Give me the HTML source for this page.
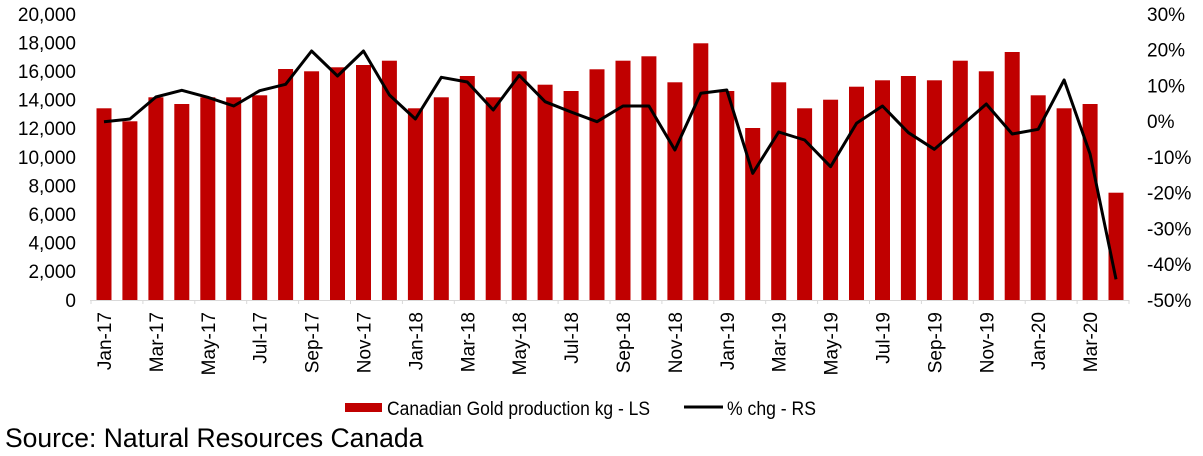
<!DOCTYPE html>
<html>
<head>
<meta charset="utf-8">
<style>
  html,body{margin:0;padding:0;background:#fff;}
  svg{display:block;}
  text{font-family:"Liberation Sans",Arial,sans-serif;fill:#000;}
</style>
</head>
<body>
<svg width="1203" height="456" viewBox="0 0 1203 456" xmlns="http://www.w3.org/2000/svg">
  <!-- bars -->
  <g fill="#C00000">
    <rect x="96.5" y="108.3" width="15" height="191.7"/>
    <rect x="122.4" y="121.3" width="15" height="178.7"/>
    <rect x="148.4" y="97.3" width="15" height="202.7"/>
    <rect x="174.3" y="104" width="15" height="196"/>
    <rect x="200.3" y="97.3" width="15" height="202.7"/>
    <rect x="226.2" y="97.3" width="15" height="202.7"/>
    <rect x="252.2" y="95.3" width="15" height="204.7"/>
    <rect x="278.1" y="69" width="15" height="231"/>
    <rect x="304.1" y="71.3" width="15" height="228.7"/>
    <rect x="330" y="67.3" width="15" height="232.7"/>
    <rect x="356" y="65" width="15" height="235"/>
    <rect x="381.9" y="60.7" width="15" height="239.3"/>
    <rect x="407.9" y="108.3" width="15" height="191.7"/>
    <rect x="433.8" y="97.3" width="15" height="202.7"/>
    <rect x="459.8" y="76" width="15" height="224"/>
    <rect x="485.7" y="97.3" width="15" height="202.7"/>
    <rect x="511.7" y="71.3" width="15" height="228.7"/>
    <rect x="537.6" y="84.7" width="15" height="215.3"/>
    <rect x="563.6" y="91" width="15" height="209"/>
    <rect x="589.5" y="69.3" width="15" height="230.7"/>
    <rect x="615.5" y="60.7" width="15" height="239.3"/>
    <rect x="641.4" y="56.3" width="15" height="243.7"/>
    <rect x="667.4" y="82.3" width="15" height="217.7"/>
    <rect x="693.3" y="43.3" width="15" height="256.7"/>
    <rect x="719.3" y="91" width="15" height="209"/>
    <rect x="745.2" y="128" width="15" height="172"/>
    <rect x="771.2" y="82.3" width="15" height="217.7"/>
    <rect x="797.1" y="108.3" width="15" height="191.7"/>
    <rect x="823.1" y="99.7" width="15" height="200.3"/>
    <rect x="849" y="86.7" width="15" height="213.3"/>
    <rect x="875" y="80.3" width="15" height="219.7"/>
    <rect x="900.9" y="76" width="15" height="224"/>
    <rect x="926.9" y="80.3" width="15" height="219.7"/>
    <rect x="952.8" y="60.7" width="15" height="239.3"/>
    <rect x="978.8" y="71.3" width="15" height="228.7"/>
    <rect x="1004.7" y="52" width="15" height="248"/>
    <rect x="1030.7" y="95.3" width="15" height="204.7"/>
    <rect x="1056.6" y="108.3" width="15" height="191.7"/>
    <rect x="1082.6" y="104" width="15" height="196"/>
    <rect x="1108.5" y="192.7" width="15" height="107.3"/>
  </g>

  <!-- x axis -->
  <line x1="90" y1="300.5" x2="1129.5" y2="300.5" stroke="#d9d9d9" stroke-width="1"/>
  <g stroke="#d9d9d9" stroke-width="1">
    <line x1="91" y1="300" x2="91" y2="304"/>
    <line x1="142.9" y1="300" x2="142.9" y2="304"/>
    <line x1="194.8" y1="300" x2="194.8" y2="304"/>
    <line x1="246.7" y1="300" x2="246.7" y2="304"/>
    <line x1="298.6" y1="300" x2="298.6" y2="304"/>
    <line x1="350.5" y1="300" x2="350.5" y2="304"/>
    <line x1="402.4" y1="300" x2="402.4" y2="304"/>
    <line x1="454.3" y1="300" x2="454.3" y2="304"/>
    <line x1="506.2" y1="300" x2="506.2" y2="304"/>
    <line x1="558.1" y1="300" x2="558.1" y2="304"/>
    <line x1="610" y1="300" x2="610" y2="304"/>
    <line x1="661.9" y1="300" x2="661.9" y2="304"/>
    <line x1="713.8" y1="300" x2="713.8" y2="304"/>
    <line x1="765.7" y1="300" x2="765.7" y2="304"/>
    <line x1="817.6" y1="300" x2="817.6" y2="304"/>
    <line x1="869.5" y1="300" x2="869.5" y2="304"/>
    <line x1="921.4" y1="300" x2="921.4" y2="304"/>
    <line x1="973.3" y1="300" x2="973.3" y2="304"/>
    <line x1="1025.2" y1="300" x2="1025.2" y2="304"/>
    <line x1="1077.1" y1="300" x2="1077.1" y2="304"/>
    <line x1="1129" y1="300" x2="1129" y2="304"/>
  </g>

  <!-- line series -->
  <polyline fill="none" stroke="#000" stroke-width="3" stroke-linejoin="round" stroke-linecap="butt"
    points="103.98,121.7 129.93,119 155.88,97 181.83,90.3 207.78,97.3 233.73,106 259.68,90.7 285.63,84.3 311.58,51 337.53,76 363.48,51 389.43,95 415.38,119 441.33,77.3 467.28,82 493.23,110 519.18,75.3 545.13,101.7 571.08,112 597.03,121.7 622.98,106 648.93,106 674.88,150 700.83,93.3 726.78,90 752.73,173.3 778.68,132 804.63,140 830.58,166.7 856.53,123.3 882.48,106 908.43,132.7 934.38,149.3 960.33,126.7 986.28,104 1012.23,134 1038.18,129.3 1064.13,80 1090.08,154 1116.03,279.3"/>

  <!-- left axis labels -->
  <g font-size="19" text-anchor="end">
    <text x="76" y="306.8">0</text>
    <text x="76" y="278.2">2,000</text>
    <text x="76" y="249.6">4,000</text>
    <text x="76" y="221">6,000</text>
    <text x="76" y="192.4">8,000</text>
    <text x="76" y="163.8">10,000</text>
    <text x="76" y="135.2">12,000</text>
    <text x="76" y="106.6">14,000</text>
    <text x="76" y="78">16,000</text>
    <text x="76" y="49.4">18,000</text>
    <text x="76" y="20.8">20,000</text>
  </g>

  <!-- right axis labels -->
  <g font-size="19" text-anchor="start">
    <text x="1147" y="306.8">-50%</text>
    <text x="1147" y="271">-40%</text>
    <text x="1147" y="235.3">-30%</text>
    <text x="1147" y="199.5">-20%</text>
    <text x="1147" y="163.8">-10%</text>
    <text x="1147" y="128">0%</text>
    <text x="1147" y="92.3">10%</text>
    <text x="1147" y="56.5">20%</text>
    <text x="1147" y="20.8">30%</text>
  </g>

  <!-- x labels -->
  <g font-size="19" text-anchor="end">
    <text transform="translate(111,312) rotate(-90)">Jan-17</text>
    <text transform="translate(162.9,312) rotate(-90)">Mar-17</text>
    <text transform="translate(214.8,312) rotate(-90)">May-17</text>
    <text transform="translate(266.7,312) rotate(-90)">Jul-17</text>
    <text transform="translate(318.6,312) rotate(-90)">Sep-17</text>
    <text transform="translate(370.5,312) rotate(-90)">Nov-17</text>
    <text transform="translate(422.4,312) rotate(-90)">Jan-18</text>
    <text transform="translate(474.3,312) rotate(-90)">Mar-18</text>
    <text transform="translate(526.2,312) rotate(-90)">May-18</text>
    <text transform="translate(578.1,312) rotate(-90)">Jul-18</text>
    <text transform="translate(630,312) rotate(-90)">Sep-18</text>
    <text transform="translate(681.9,312) rotate(-90)">Nov-18</text>
    <text transform="translate(733.8,312) rotate(-90)">Jan-19</text>
    <text transform="translate(785.7,312) rotate(-90)">Mar-19</text>
    <text transform="translate(837.6,312) rotate(-90)">May-19</text>
    <text transform="translate(889.5,312) rotate(-90)">Jul-19</text>
    <text transform="translate(941.4,312) rotate(-90)">Sep-19</text>
    <text transform="translate(993.3,312) rotate(-90)">Nov-19</text>
    <text transform="translate(1045.2,312) rotate(-90)">Jan-20</text>
    <text transform="translate(1097.1,312) rotate(-90)">Mar-20</text>
  </g>

  <!-- legend -->
  <rect x="345" y="403" width="37" height="9" fill="#C00000"/>
  <text x="387" y="415" font-size="19" textLength="263" lengthAdjust="spacingAndGlyphs">Canadian Gold production kg - LS</text>
  <line x1="684" y1="407" x2="723" y2="407" stroke="#000" stroke-width="3"/>
  <text x="727" y="415" font-size="19" textLength="89" lengthAdjust="spacingAndGlyphs">% chg - RS</text>

  <!-- source -->
  <text x="5" y="447" font-size="26.5">Source: Natural Resources Canada</text>
</svg>
</body>
</html>
